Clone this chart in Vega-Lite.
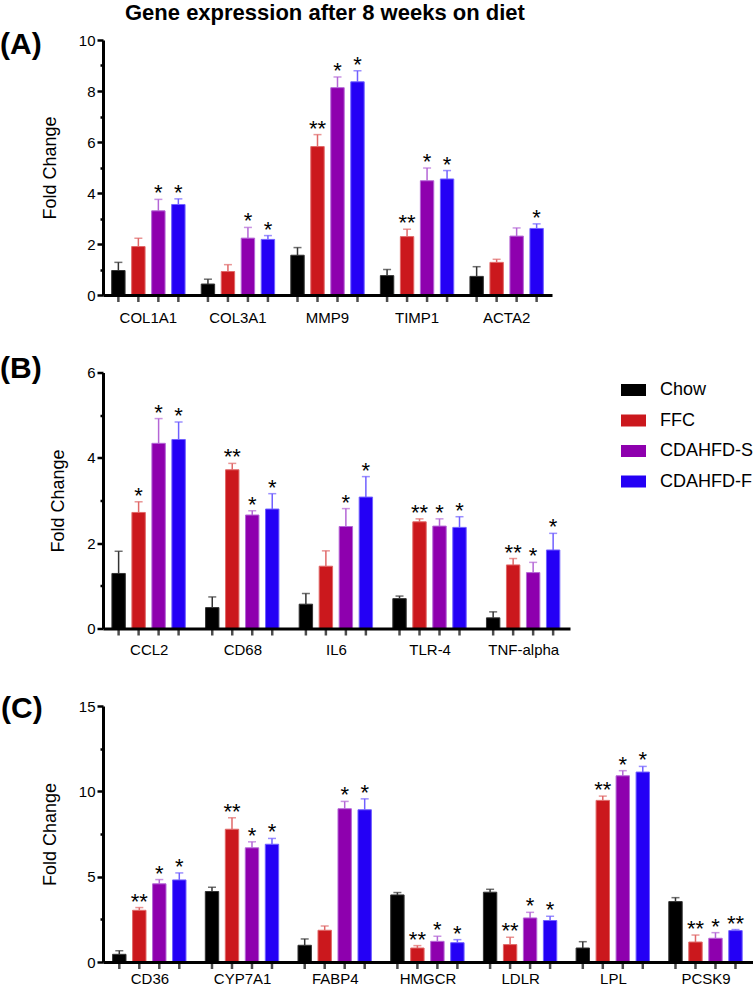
{
  "$schema": "https://vega.github.io/schema/vega-lite/v6.json",
  "padding": {"top": 2, "left": 0, "right": 0, "bottom": 0},
  "background": "white",
  "title": {"text": "Gene expression after 8 weeks on diet", "fontSize": 22, "fontWeight": "bold", "anchor": "start", "frame": "group", "dx": 22, "offset": -12, "baseline": "alphabetic", "color": "black"},
  "config": {
    "font": "Liberation Sans",
    "view": {"stroke": null},
    "axis": {"labelColor": "black", "titleColor": "black", "domainColor": "black", "tickColor": "black", "grid": false, "labelFontSize": 15, "titleFontSize": 18, "titleFontWeight": "normal", "domainWidth": 3, "tickWidth": 2.5}
  },
  "datasets": {
    "A": [
      {"gene": "COL1A1", "diet": "Chow", "mean": 0.96, "top": 1.28, "sig": ""},
      {"gene": "COL1A1", "diet": "FFC", "mean": 1.90, "top": 2.23, "sig": ""},
      {"gene": "COL1A1", "diet": "CDAHFD-S", "mean": 3.30, "top": 3.75, "sig": "*"},
      {"gene": "COL1A1", "diet": "CDAHFD-F", "mean": 3.55, "top": 3.77, "sig": "*"},
      {"gene": "COL3A1", "diet": "Chow", "mean": 0.43, "top": 0.62, "sig": ""},
      {"gene": "COL3A1", "diet": "FFC", "mean": 0.92, "top": 1.19, "sig": ""},
      {"gene": "COL3A1", "diet": "CDAHFD-S", "mean": 2.23, "top": 2.65, "sig": "*"},
      {"gene": "COL3A1", "diet": "CDAHFD-F", "mean": 2.18, "top": 2.33, "sig": "*"},
      {"gene": "MMP9", "diet": "Chow", "mean": 1.56, "top": 1.86, "sig": ""},
      {"gene": "MMP9", "diet": "FFC", "mean": 5.82, "top": 6.29, "sig": "**"},
      {"gene": "MMP9", "diet": "CDAHFD-S", "mean": 8.13, "top": 8.55, "sig": "*"},
      {"gene": "MMP9", "diet": "CDAHFD-F", "mean": 8.36, "top": 8.79, "sig": "*"},
      {"gene": "TIMP1", "diet": "Chow", "mean": 0.76, "top": 1.00, "sig": ""},
      {"gene": "TIMP1", "diet": "FFC", "mean": 2.29, "top": 2.58, "sig": "**"},
      {"gene": "TIMP1", "diet": "CDAHFD-S", "mean": 4.48, "top": 4.98, "sig": "*"},
      {"gene": "TIMP1", "diet": "CDAHFD-F", "mean": 4.55, "top": 4.88, "sig": "*"},
      {"gene": "ACTA2", "diet": "Chow", "mean": 0.73, "top": 1.11, "sig": ""},
      {"gene": "ACTA2", "diet": "FFC", "mean": 1.28, "top": 1.40, "sig": ""},
      {"gene": "ACTA2", "diet": "CDAHFD-S", "mean": 2.31, "top": 2.63, "sig": ""},
      {"gene": "ACTA2", "diet": "CDAHFD-F", "mean": 2.61, "top": 2.79, "sig": "*"}
    ],
    "B": [
      {"gene": "CCL2", "diet": "Chow", "mean": 1.29, "top": 1.81, "sig": ""},
      {"gene": "CCL2", "diet": "FFC", "mean": 2.72, "top": 2.97, "sig": "*"},
      {"gene": "CCL2", "diet": "CDAHFD-S", "mean": 4.34, "top": 4.92, "sig": "*"},
      {"gene": "CCL2", "diet": "CDAHFD-F", "mean": 4.43, "top": 4.84, "sig": "*"},
      {"gene": "CD68", "diet": "Chow", "mean": 0.49, "top": 0.74, "sig": ""},
      {"gene": "CD68", "diet": "FFC", "mean": 3.72, "top": 3.87, "sig": "**"},
      {"gene": "CD68", "diet": "CDAHFD-S", "mean": 2.66, "top": 2.76, "sig": "*"},
      {"gene": "CD68", "diet": "CDAHFD-F", "mean": 2.80, "top": 3.16, "sig": "*"},
      {"gene": "IL6", "diet": "Chow", "mean": 0.57, "top": 0.82, "sig": ""},
      {"gene": "IL6", "diet": "FFC", "mean": 1.46, "top": 1.82, "sig": ""},
      {"gene": "IL6", "diet": "CDAHFD-S", "mean": 2.39, "top": 2.81, "sig": "*"},
      {"gene": "IL6", "diet": "CDAHFD-F", "mean": 3.08, "top": 3.56, "sig": "*"},
      {"gene": "TLR-4", "diet": "Chow", "mean": 0.70, "top": 0.76, "sig": ""},
      {"gene": "TLR-4", "diet": "FFC", "mean": 2.50, "top": 2.57, "sig": "**"},
      {"gene": "TLR-4", "diet": "CDAHFD-S", "mean": 2.40, "top": 2.57, "sig": "*"},
      {"gene": "TLR-4", "diet": "CDAHFD-F", "mean": 2.37, "top": 2.62, "sig": "*"},
      {"gene": "TNF-alpha", "diet": "Chow", "mean": 0.25, "top": 0.39, "sig": ""},
      {"gene": "TNF-alpha", "diet": "FFC", "mean": 1.49, "top": 1.64, "sig": "**"},
      {"gene": "TNF-alpha", "diet": "CDAHFD-S", "mean": 1.31, "top": 1.55, "sig": "*"},
      {"gene": "TNF-alpha", "diet": "CDAHFD-F", "mean": 1.84, "top": 2.23, "sig": "*"}
    ],
    "C": [
      {"gene": "CD36", "diet": "Chow", "mean": 0.45, "top": 0.66, "sig": ""},
      {"gene": "CD36", "diet": "FFC", "mean": 3.03, "top": 3.19, "sig": "**"},
      {"gene": "CD36", "diet": "CDAHFD-S", "mean": 4.58, "top": 4.83, "sig": "*"},
      {"gene": "CD36", "diet": "CDAHFD-F", "mean": 4.81, "top": 5.22, "sig": "*"},
      {"gene": "CYP7A1", "diet": "Chow", "mean": 4.13, "top": 4.38, "sig": ""},
      {"gene": "CYP7A1", "diet": "FFC", "mean": 7.78, "top": 8.45, "sig": "**"},
      {"gene": "CYP7A1", "diet": "CDAHFD-S", "mean": 6.69, "top": 7.04, "sig": "*"},
      {"gene": "CYP7A1", "diet": "CDAHFD-F", "mean": 6.90, "top": 7.24, "sig": "*"},
      {"gene": "FABP4", "diet": "Chow", "mean": 0.98, "top": 1.35, "sig": ""},
      {"gene": "FABP4", "diet": "FFC", "mean": 1.86, "top": 2.11, "sig": ""},
      {"gene": "FABP4", "diet": "CDAHFD-S", "mean": 8.98, "top": 9.41, "sig": "*"},
      {"gene": "FABP4", "diet": "CDAHFD-F", "mean": 8.92, "top": 9.56, "sig": "*"},
      {"gene": "HMGCR", "diet": "Chow", "mean": 3.93, "top": 4.07, "sig": ""},
      {"gene": "HMGCR", "diet": "FFC", "mean": 0.82, "top": 0.96, "sig": "**"},
      {"gene": "HMGCR", "diet": "CDAHFD-S", "mean": 1.21, "top": 1.51, "sig": "*"},
      {"gene": "HMGCR", "diet": "CDAHFD-F", "mean": 1.13, "top": 1.31, "sig": "*"},
      {"gene": "LDLR", "diet": "Chow", "mean": 4.09, "top": 4.26, "sig": ""},
      {"gene": "LDLR", "diet": "FFC", "mean": 1.02, "top": 1.45, "sig": "**"},
      {"gene": "LDLR", "diet": "CDAHFD-S", "mean": 2.58, "top": 2.91, "sig": "*"},
      {"gene": "LDLR", "diet": "CDAHFD-F", "mean": 2.43, "top": 2.68, "sig": "*"},
      {"gene": "LPL", "diet": "Chow", "mean": 0.82, "top": 1.19, "sig": ""},
      {"gene": "LPL", "diet": "FFC", "mean": 9.47, "top": 9.72, "sig": "**"},
      {"gene": "LPL", "diet": "CDAHFD-S", "mean": 10.91, "top": 11.21, "sig": "*"},
      {"gene": "LPL", "diet": "CDAHFD-F", "mean": 11.13, "top": 11.46, "sig": "*"},
      {"gene": "PCSK9", "diet": "Chow", "mean": 3.54, "top": 3.77, "sig": ""},
      {"gene": "PCSK9", "diet": "FFC", "mean": 1.17, "top": 1.58, "sig": "**"},
      {"gene": "PCSK9", "diet": "CDAHFD-S", "mean": 1.39, "top": 1.72, "sig": "*"},
      {"gene": "PCSK9", "diet": "CDAHFD-F", "mean": 1.84, "top": 1.90, "sig": "**"}
    ]
  },
  "bounds": "flush",
  "spacing": 77.5,
  "resolve": {"scale": {"color": "independent", "stroke": "independent", "fill": "independent"}, "legend": {"color": "independent"}},
  "vconcat": [
    {
      "width": 449, "height": 255,
      "data": {"name": "A"},
      "title": {"text": "(A)", "anchor": "start", "frame": "group", "dx": -103, "dy": 51, "offset": 0, "baseline": "alphabetic", "fontSize": 30, "fontWeight": "bold", "color": "black"},
      "encoding": {
        "x": {"field": "gene", "type": "nominal", "sort": null, "scale": {"paddingInner": 0.107, "paddingOuter": 0.06}, "axis": {"title": null, "labelAngle": 0, "ticks": false, "domainWidth": 3, "labelPadding": 15, "zindex": 1}},
        "xOffset": {"field": "diet", "type": "nominal", "sort": ["Chow", "FFC", "CDAHFD-S", "CDAHFD-F"], "scale": {"paddingInner": 0.33, "paddingOuter": 0.165}}
      },
      "layer": [
        {"mark": {"type": "tick", "orient": "vertical", "thickness": 2.5, "size": 7, "yOffset": 3.5, "color": "black"},
         "encoding": {"y": {"datum": 0, "type": "quantitative", "title": "Fold Change", "scale": {"domain": [0, 10], "nice": false}, "axis": {"title": "Fold Change", "values": [0,1,2,3,4,5,6,7,8,9,10], "labelExpr": "datum.value % 2 == 0 ? datum.label : ''", "domainWidth": 3, "tickWidth": 2.5, "tickSize": {"condition": {"test": "datum.value % 2 == 0", "value": 6}, "value": 3}, "labelPadding": 2, "titlePadding": 19}}}},
        {"mark": {"type": "bar", "strokeWidth": 1},
         "encoding": {
           "y": {"field": "mean", "type": "quantitative", "title": "Fold Change", "scale": {"domain": [0, 10], "nice": false}, "axis": {"title": "Fold Change", "values": [0,1,2,3,4,5,6,7,8,9,10], "labelExpr": "datum.value % 2 == 0 ? datum.label : ''", "domainWidth": 3, "tickWidth": 2.5, "tickSize": {"condition": {"test": "datum.value % 2 == 0", "value": 6}, "value": 3}, "labelPadding": 2, "titlePadding": 19}},
           "color": {"field": "diet", "type": "nominal", "scale": {"domain": ["Chow", "FFC", "CDAHFD-S", "CDAHFD-F"], "range": ["#000000", "#CB181D", "#8E00AE", "#2400F5"]}, "legend": null},
           "stroke": {"field": "diet", "type": "nominal", "scale": {"domain": ["Chow", "FFC", "CDAHFD-S", "CDAHFD-F"], "range": ["#333333", "#E06868", "#B466D6", "#7060FF"]}, "legend": null}
         }},
        {"mark": {"type": "rule", "strokeWidth": 1.5},
         "encoding": {
           "y": {"field": "mean", "type": "quantitative", "title": "Fold Change", "axis": {"title": "Fold Change", "values": [0,1,2,3,4,5,6,7,8,9,10], "labelExpr": "datum.value % 2 == 0 ? datum.label : ''", "domainWidth": 3, "tickWidth": 2.5, "tickSize": {"condition": {"test": "datum.value % 2 == 0", "value": 6}, "value": 3}, "labelPadding": 2, "titlePadding": 19}}, "y2": {"field": "top"},
           "stroke": {"field": "diet", "type": "nominal", "scale": {"domain": ["Chow", "FFC", "CDAHFD-S", "CDAHFD-F"], "range": ["#333333", "#E06868", "#B466D6", "#7060FF"]}, "legend": null}
         }},
        {"mark": {"type": "tick", "orient": "horizontal", "thickness": 1.5, "size": 8},
         "encoding": {
           "y": {"field": "top", "type": "quantitative", "title": "Fold Change", "axis": {"title": "Fold Change", "values": [0,1,2,3,4,5,6,7,8,9,10], "labelExpr": "datum.value % 2 == 0 ? datum.label : ''", "domainWidth": 3, "tickWidth": 2.5, "tickSize": {"condition": {"test": "datum.value % 2 == 0", "value": 6}, "value": 3}, "labelPadding": 2, "titlePadding": 19}},
           "fill": {"field": "diet", "type": "nominal", "scale": {"domain": ["Chow", "FFC", "CDAHFD-S", "CDAHFD-F"], "range": ["#333333", "#E06868", "#B466D6", "#7060FF"]}, "legend": null}
         }},
        {"mark": {"type": "text", "fontSize": 22, "baseline": "alphabetic", "align": "center", "dy": 1, "color": "black"},
         "encoding": {"y": {"field": "top", "type": "quantitative", "title": "Fold Change", "axis": {"title": "Fold Change", "values": [0,1,2,3,4,5,6,7,8,9,10], "labelExpr": "datum.value % 2 == 0 ? datum.label : ''", "domainWidth": 3, "tickWidth": 2.5, "tickSize": {"condition": {"test": "datum.value % 2 == 0", "value": 6}, "value": 3}, "labelPadding": 2, "titlePadding": 19}}, "text": {"field": "sig"}}}
      ]
    },
    {
      "width": 467, "height": 256,
      "data": {"name": "B"},
      "title": {"text": "(B)", "anchor": "start", "frame": "group", "dx": -103, "dy": 42, "offset": 0, "baseline": "alphabetic", "fontSize": 30, "fontWeight": "bold", "color": "black"},
      "encoding": {
        "x": {"field": "gene", "type": "nominal", "sort": null, "scale": {"paddingInner": 0.1325, "paddingOuter": 0.06}, "axis": {"title": null, "labelAngle": 0, "ticks": false, "domainWidth": 3, "labelPadding": 14, "zindex": 1}},
        "xOffset": {"field": "diet", "type": "nominal", "sort": ["Chow", "FFC", "CDAHFD-S", "CDAHFD-F"], "scale": {"paddingInner": 0.33, "paddingOuter": 0.165}}
      },
      "layer": [
        {"mark": {"type": "tick", "orient": "vertical", "thickness": 2.5, "size": 7, "yOffset": 3.5, "color": "black"},
         "encoding": {"y": {"datum": 0, "type": "quantitative", "title": "Fold Change", "scale": {"domain": [0, 6], "nice": false}, "axis": {"title": "Fold Change", "values": [0,1,2,3,4,5,6], "labelExpr": "datum.value % 2 == 0 ? datum.label : ''", "domainWidth": 3, "tickWidth": 2.5, "tickSize": {"condition": {"test": "datum.value % 2 == 0", "value": 6}, "value": 3}, "labelPadding": 2, "titlePadding": 19}}}},
        {"mark": {"type": "bar", "strokeWidth": 1},
         "encoding": {
           "y": {"field": "mean", "type": "quantitative", "title": "Fold Change", "scale": {"domain": [0, 6], "nice": false}, "axis": {"title": "Fold Change", "values": [0,1,2,3,4,5,6], "labelExpr": "datum.value % 2 == 0 ? datum.label : ''", "domainWidth": 3, "tickWidth": 2.5, "tickSize": {"condition": {"test": "datum.value % 2 == 0", "value": 6}, "value": 3}, "labelPadding": 2, "titlePadding": 19}},
           "color": {"field": "diet", "type": "nominal", "scale": {"domain": ["Chow", "FFC", "CDAHFD-S", "CDAHFD-F"], "range": ["#000000", "#CB181D", "#8E00AE", "#2400F5"]},
             "legend": {"orient": "none", "legendX": 518, "legendY": 5, "title": null, "labelFontSize": 18, "labelColor": "black", "symbolType": "M-1,-0.48H1V0.48H-1Z", "symbolSize": 625, "rowPadding": 8.5, "labelOffset": 14, "symbolStrokeWidth": 0, "symbolOpacity": 1}},
           "stroke": {"field": "diet", "type": "nominal", "scale": {"domain": ["Chow", "FFC", "CDAHFD-S", "CDAHFD-F"], "range": ["#333333", "#E06868", "#B466D6", "#7060FF"]}, "legend": null}
         }},
        {"mark": {"type": "rule", "strokeWidth": 1.5},
         "encoding": {
           "y": {"field": "mean", "type": "quantitative", "title": "Fold Change", "axis": {"title": "Fold Change", "values": [0,1,2,3,4,5,6], "labelExpr": "datum.value % 2 == 0 ? datum.label : ''", "domainWidth": 3, "tickWidth": 2.5, "tickSize": {"condition": {"test": "datum.value % 2 == 0", "value": 6}, "value": 3}, "labelPadding": 2, "titlePadding": 19}}, "y2": {"field": "top"},
           "stroke": {"field": "diet", "type": "nominal", "scale": {"domain": ["Chow", "FFC", "CDAHFD-S", "CDAHFD-F"], "range": ["#333333", "#E06868", "#B466D6", "#7060FF"]}, "legend": null}
         }},
        {"mark": {"type": "tick", "orient": "horizontal", "thickness": 1.5, "size": 8},
         "encoding": {
           "y": {"field": "top", "type": "quantitative", "title": "Fold Change", "axis": {"title": "Fold Change", "values": [0,1,2,3,4,5,6], "labelExpr": "datum.value % 2 == 0 ? datum.label : ''", "domainWidth": 3, "tickWidth": 2.5, "tickSize": {"condition": {"test": "datum.value % 2 == 0", "value": 6}, "value": 3}, "labelPadding": 2, "titlePadding": 19}},
           "fill": {"field": "diet", "type": "nominal", "scale": {"domain": ["Chow", "FFC", "CDAHFD-S", "CDAHFD-F"], "range": ["#333333", "#E06868", "#B466D6", "#7060FF"]}, "legend": null}
         }},
        {"mark": {"type": "text", "fontSize": 22, "baseline": "alphabetic", "align": "center", "dy": 1, "color": "black"},
         "encoding": {"y": {"field": "top", "type": "quantitative", "title": "Fold Change", "axis": {"title": "Fold Change", "values": [0,1,2,3,4,5,6], "labelExpr": "datum.value % 2 == 0 ? datum.label : ''", "domainWidth": 3, "tickWidth": 2.5, "tickSize": {"condition": {"test": "datum.value % 2 == 0", "value": 6}, "value": 3}, "labelPadding": 2, "titlePadding": 19}}, "text": {"field": "sig"}}}
      ]
    },
    {
      "width": 650, "height": 256,
      "data": {"name": "C"},
      "title": {"text": "(C)", "anchor": "start", "frame": "group", "dx": -102, "dy": 49, "offset": 0, "baseline": "alphabetic", "fontSize": 30, "fontWeight": "bold", "color": "black"},
      "encoding": {
        "x": {"field": "gene", "type": "nominal", "sort": null, "scale": {"paddingInner": 0.124, "paddingOuter": 0.068}, "axis": {"title": null, "labelAngle": 0, "ticks": false, "domainWidth": 3, "labelPadding": 9, "zindex": 1}},
        "xOffset": {"field": "diet", "type": "nominal", "sort": ["Chow", "FFC", "CDAHFD-S", "CDAHFD-F"], "scale": {"paddingInner": 0.33, "paddingOuter": 0.165}}
      },
      "layer": [
        {"mark": {"type": "tick", "orient": "vertical", "thickness": 2.5, "size": 7, "yOffset": 3.5, "color": "black"},
         "encoding": {"y": {"datum": 0, "type": "quantitative", "title": "Fold Change", "scale": {"domain": [0, 15], "nice": false}, "axis": {"title": "Fold Change", "values": [0,2.5,5,7.5,10,12.5,15], "labelExpr": "datum.value % 5 == 0 ? datum.label : ''", "domainWidth": 3, "tickWidth": 2.5, "tickSize": {"condition": {"test": "datum.value % 5 == 0", "value": 6}, "value": 3}, "labelPadding": 2, "titlePadding": 19}}}},
        {"mark": {"type": "bar", "strokeWidth": 1},
         "encoding": {
           "y": {"field": "mean", "type": "quantitative", "title": "Fold Change", "scale": {"domain": [0, 15], "nice": false}, "axis": {"title": "Fold Change", "values": [0,2.5,5,7.5,10,12.5,15], "labelExpr": "datum.value % 5 == 0 ? datum.label : ''", "domainWidth": 3, "tickWidth": 2.5, "tickSize": {"condition": {"test": "datum.value % 5 == 0", "value": 6}, "value": 3}, "labelPadding": 2, "titlePadding": 19}},
           "color": {"field": "diet", "type": "nominal", "scale": {"domain": ["Chow", "FFC", "CDAHFD-S", "CDAHFD-F"], "range": ["#000000", "#CB181D", "#8E00AE", "#2400F5"]}, "legend": null},
           "stroke": {"field": "diet", "type": "nominal", "scale": {"domain": ["Chow", "FFC", "CDAHFD-S", "CDAHFD-F"], "range": ["#333333", "#E06868", "#B466D6", "#7060FF"]}, "legend": null}
         }},
        {"mark": {"type": "rule", "strokeWidth": 1.5},
         "encoding": {
           "y": {"field": "mean", "type": "quantitative", "title": "Fold Change", "axis": {"title": "Fold Change", "values": [0,2.5,5,7.5,10,12.5,15], "labelExpr": "datum.value % 5 == 0 ? datum.label : ''", "domainWidth": 3, "tickWidth": 2.5, "tickSize": {"condition": {"test": "datum.value % 5 == 0", "value": 6}, "value": 3}, "labelPadding": 2, "titlePadding": 19}}, "y2": {"field": "top"},
           "stroke": {"field": "diet", "type": "nominal", "scale": {"domain": ["Chow", "FFC", "CDAHFD-S", "CDAHFD-F"], "range": ["#333333", "#E06868", "#B466D6", "#7060FF"]}, "legend": null}
         }},
        {"mark": {"type": "tick", "orient": "horizontal", "thickness": 1.5, "size": 8},
         "encoding": {
           "y": {"field": "top", "type": "quantitative", "title": "Fold Change", "axis": {"title": "Fold Change", "values": [0,2.5,5,7.5,10,12.5,15], "labelExpr": "datum.value % 5 == 0 ? datum.label : ''", "domainWidth": 3, "tickWidth": 2.5, "tickSize": {"condition": {"test": "datum.value % 5 == 0", "value": 6}, "value": 3}, "labelPadding": 2, "titlePadding": 19}},
           "fill": {"field": "diet", "type": "nominal", "scale": {"domain": ["Chow", "FFC", "CDAHFD-S", "CDAHFD-F"], "range": ["#333333", "#E06868", "#B466D6", "#7060FF"]}, "legend": null}
         }},
        {"mark": {"type": "text", "fontSize": 22, "baseline": "alphabetic", "align": "center", "dy": 1, "color": "black"},
         "encoding": {"y": {"field": "top", "type": "quantitative", "title": "Fold Change", "axis": {"title": "Fold Change", "values": [0,2.5,5,7.5,10,12.5,15], "labelExpr": "datum.value % 5 == 0 ? datum.label : ''", "domainWidth": 3, "tickWidth": 2.5, "tickSize": {"condition": {"test": "datum.value % 5 == 0", "value": 6}, "value": 3}, "labelPadding": 2, "titlePadding": 19}}, "text": {"field": "sig"}}}
      ]
    }
  ]
}
